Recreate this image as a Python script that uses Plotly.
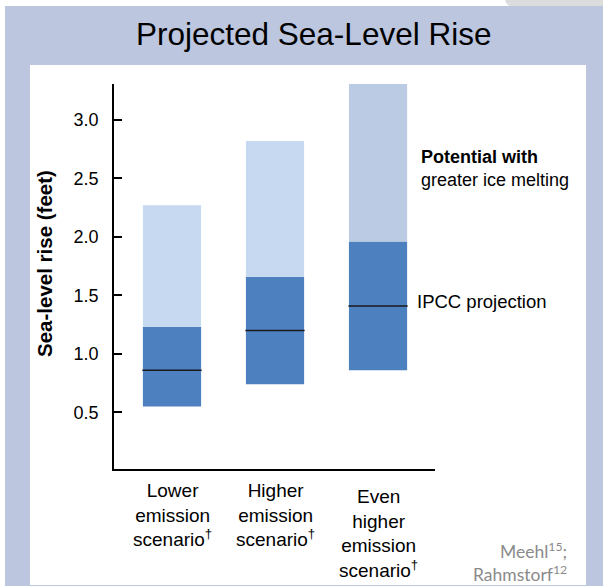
import plotly.graph_objects as go

# ---- data ----
categories = ["Lower<br>emission<br>scenario<sup>†</sup>",
              "Higher<br>emission<br>scenario<sup>†</sup>",
              "Even<br>higher<br>emission<br>scenario<sup>†</sup>"]
ipcc_low = [0.55, 0.74, 0.86]
ipcc_mid = [0.86, 1.20, 1.41]
ipcc_high = [1.23, 1.66, 1.96]
ice_high = [2.27, 2.82, 3.31]
y_ticks = [0.5, 1.0, 1.5, 2.0, 2.5, 3.0]
y_ticktext = ["0.5", "1.0", "1.5", "2.0", "2.5", "3.0"]

ice_colors = ["#c7d9f0", "#c7d9f0", "#bacbe3"]
ipcc_color = "#4d80bf"
FRAME = "#bcc6df"
FONT = "Liberation Sans, Arial, sans-serif"

W, H = 603, 586
L, R, T, B = 114, 435, 84, 469   # plot area in pixels

def px(x):
    return (x - L) / (R - L)

def py(y):
    return (B - y) / (B - T)

xs = list(range(len(categories)))
BAR_W = 0.565
bar_px = BAR_W * (R - L) / 3.116

fig = go.Figure()
fig.add_trace(go.Bar(
    x=xs, y=[h - l for h, l in zip(ipcc_high, ipcc_low)], base=ipcc_low,
    marker=dict(color=ipcc_color, line=dict(width=0)), width=BAR_W,
    name="IPCC projection", hoverinfo="skip"))
fig.add_trace(go.Bar(
    x=xs, y=[h - l for h, l in zip(ice_high, ipcc_high)], base=ipcc_high,
    marker=dict(color=ice_colors, line=dict(width=0)), width=BAR_W,
    name="Potential with greater ice melting", hoverinfo="skip"))
fig.add_trace(go.Scatter(
    x=xs, y=ipcc_mid, mode="markers",
    marker=dict(symbol="line-ew", size=(bar_px + 1) / 1.4,
                line=dict(color="#1a1a1a", width=1.5)),
    hoverinfo="skip", showlegend=False))

shapes = [
    dict(type="path", xref="paper", yref="paper",
         path=f"M {px(505)},{py(0)} Q {px(506)},{py(5)} {px(512)},{py(7)} L {px(603)},{py(7)} L {px(603)},{py(0)} Z",
         fillcolor="#dcdcdc", line=dict(width=0), layer="below"),
    dict(type="rect", xref="paper", yref="paper",
         x0=px(5), x1=px(603), y0=py(586), y1=py(6),
         fillcolor=FRAME, line=dict(width=0), layer="below"),
    dict(type="rect", xref="paper", yref="paper",
         x0=px(30), x1=px(586), y0=py(585), y1=py(65),
         fillcolor="white", line=dict(width=0), layer="below"),
]

annotations = [
    dict(text="Projected Sea-Level Rise", xref="paper", yref="paper",
         x=px(313), y=py(34), xanchor="center", yanchor="middle", showarrow=False,
         font=dict(family=FONT, size=31.5, color="black")),
    dict(text="<b>Sea-level rise (feet)</b>", xref="paper", yref="paper",
         x=px(44), y=py(264), xanchor="center", yanchor="middle", showarrow=False,
         textangle=-90, font=dict(family=FONT, size=20.5, color="black")),
    dict(text="<b>Potential with</b><br>greater ice melting", xref="paper", yref="paper",
         x=px(419), y=py(145), xanchor="left", yanchor="top", showarrow=False, align="left",
         font=dict(family=FONT, size=18, color="black")),
    dict(text="IPCC projection", xref="paper", yref="paper",
         x=px(415), y=py(301), xanchor="left", yanchor="middle", showarrow=False, align="left",
         font=dict(family=FONT, size=18.5, color="black")),
    dict(text="Meehl<sup>15</sup>;<br>Rahmstorf<sup>12</sup>", xref="paper", yref="paper",
         x=px(569), y=py(587), xanchor="right", yanchor="bottom", showarrow=False, align="right",
         font=dict(family="Lato, sans-serif", size=17.5, color="#8a8a8a")),
]
cat_shift = [0, 0, -6]
for i, c in enumerate(categories):
    annotations.append(dict(text=c, xref="x", yref="paper", x=i, y=py(478),
                            yshift=cat_shift[i],
                            xanchor="center", yanchor="top", showarrow=False, align="center",
                            font=dict(family=FONT, size=19, color="black")))

fig.update_layout(
    width=W, height=H,
    margin=dict(l=L, r=W - R, t=T, b=H - B, pad=0),
    paper_bgcolor="white", plot_bgcolor="rgba(0,0,0,0)",
    barmode="overlay", showlegend=False,
    shapes=shapes, annotations=annotations,
    xaxis=dict(range=[-0.563, 2.553], showgrid=False, zeroline=False,
               showline=True, linecolor="black", linewidth=1.5,
               showticklabels=False, ticks="", fixedrange=True),
    yaxis=dict(range=[0.015, 3.308], showgrid=False, zeroline=False,
               showline=True, linecolor="black", linewidth=1.5,
               tickvals=y_ticks, ticktext=y_ticktext, ticks="inside", ticklen=8,
               tickwidth=1.5, tickcolor="black", ticklabelstandoff=10,
               tickfont=dict(family=FONT, size=18, color="black"), fixedrange=True),
)

fig.write_html("out.html", config={"displayModeBar": False},
               post_script="document.body.style.margin='0';document.body.style.overflow='hidden';")
